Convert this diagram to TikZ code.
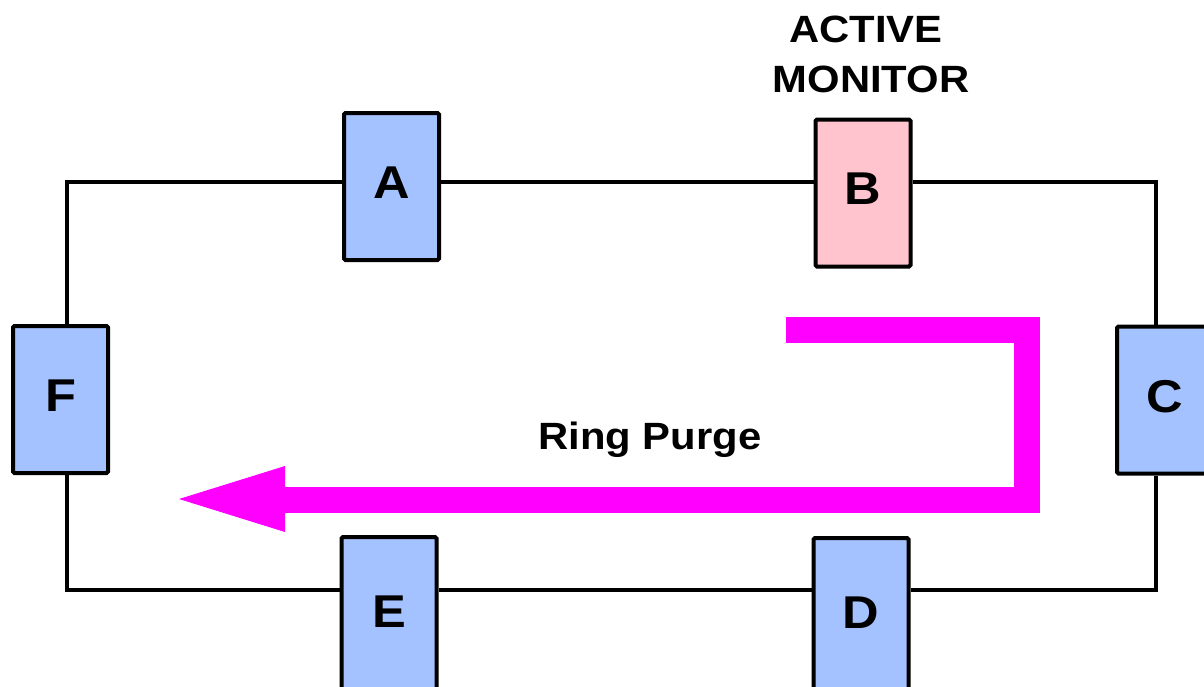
\documentclass[tikz,border=0pt]{standalone}
\usepackage{fontspec}
\setmainfont{Liberation Sans}
\newfontfamily\labfont[FakeStretch=1.1]{Liberation Sans}
\definecolor{nodeblue}{HTML}{A4C2FF}
\definecolor{nodepink}{HTML}{FFC4CE}
\definecolor{purge}{HTML}{FF00FF}
\tikzset{
  station/.style={draw=black, line width=4pt, rounded corners=1.5pt, minimum width=95pt, minimum height=147pt,
    inner sep=0pt, text depth=8pt, font=\labfont\bfseries\fontsize{46}{46}\selectfont},
  stblue/.style={station, fill=nodeblue},
  stpink/.style={station, fill=nodepink},
  ring/.style={draw=black, line width=3.5pt, line join=miter},
  purgeline/.style={draw=purge, line width=26pt, line join=miter, line cap=butt},
  purgehead/.style={fill=purge, draw=none},
  caption/.style={font=\labfont\bfseries\fontsize{38}{38}\selectfont, inner sep=0pt, anchor=base}
}
\begin{document}
\begin{tikzpicture}[x=1pt,y=-1pt]
\useasboundingbox (0,0) rectangle (1204,686);
\clip (0,0) rectangle (1204,686);
% ring reference lines
\coordinate (top) at (0,182);
\coordinate (bot) at (0,590);
\coordinate (lft) at (67,0);
\coordinate (rgt) at (1156,0);
% stations
\node[stblue] (A) at (391.5,186.5) {A};
\node[stpink] (B) at (863,193) {B};
\node[stblue, minimum width=104pt] (C) at (1169,400) {\hspace*{-8pt}C};
\node[stblue, minimum height=157pt] (D) at (861,616.5) {D};
\node[stblue, minimum height=157pt] (E) at (389,615.5) {E};
\node[stblue] (F) at (60.5,399.5) {F};
% ring connectors
\draw[ring] (A.east |- top) -- (B.west |- top);
\draw[ring] (B.east |- top) -- (rgt |- top) -- (rgt |- C.north);
\draw[ring] (rgt |- C.south) -- (rgt |- bot) -- (D.east |- bot);
\draw[ring] (D.west |- bot) -- (E.east |- bot);
\draw[ring] (E.west |- bot) -- (lft |- bot) -- (lft |- F.south);
\draw[ring] (lft |- F.north) -- (lft |- top) -- (A.west |- top);
% ring purge arrow
\coordinate (p0) at (786,329.5);
\coordinate (p1) at (1027,329.5);
\coordinate (p2) at (1027,499.5);
\coordinate (p3) at (285,499.5);
\coordinate (tip) at (179,499);
\coordinate (hu) at (285,466);
\coordinate (hl) at (285,532);
\draw[purgeline] (p0) -- (p1) -- (p2) -- (p3);
\fill[purgehead] (hu) -- (tip) -- (hl) -- cycle;
% labels
\node[caption] (rp) at (650,449) {Ring Purge};
\node[caption] (am1) at (866,42) {ACTIVE};
\node[caption] (am2) at (871,92) {MONITOR};
\end{tikzpicture}
\end{document}
